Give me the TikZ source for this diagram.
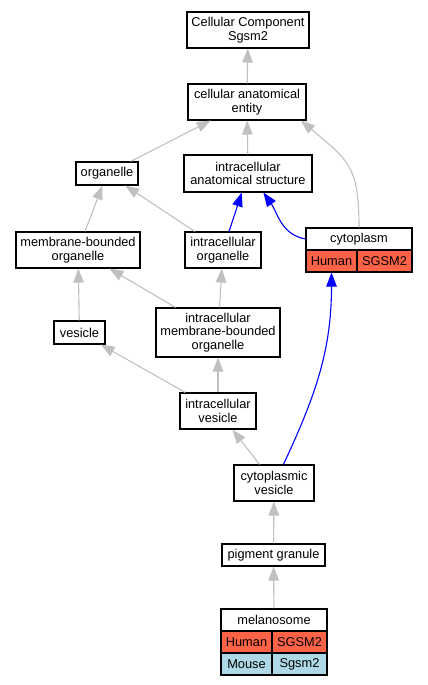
\documentclass[tikz,border=0pt]{standalone}
\usepackage{fontspec}
\setmainfont{Liberation Sans}
\usetikzlibrary{arrows.meta}
\definecolor{isagray}{RGB}{192,192,192}
\definecolor{human}{RGB}{255,99,71}
\definecolor{mouse}{RGB}{173,216,230}
\begin{document}
\begin{tikzpicture}[x=1pt,y=1pt,
    font=\fontsize{12.8}{13.4}\selectfont,
    cell/.style={draw,line width=1.1pt,inner sep=0pt,minimum height=22pt}]
  \useasboundingbox (0,0) rectangle (428,-685);

        \begin{scope}[every node/.style={draw,line width=1.1pt,align=center,inner sep=0pt,minimum height=36pt}]
          \node[minimum width=122pt] (1)  at (248,-30)    {Cellular Component\\Sgsm2};
          \node[minimum width=118pt] (2)  at (247,-102)   {cellular anatomical\\entity};
          \node[minimum width=62pt,minimum height=23pt] (3) at (107,-173.5) {organelle};
          \node[minimum width=128pt,minimum height=37pt] (4) at (248,-173.5) {intracellular\\anatomical structure};
          \node[minimum width=124pt] (5)  at (78,-250)    {membrane-bounded\\organelle};
          \node[minimum width=76pt]  (6)  at (223,-250)   {intracellular\\organelle};
          \node[minimum width=51pt,minimum height=23pt] (8) at (79.5,-332.5) {vesicle};
          \node[minimum width=124pt,minimum height=49pt] (9) at (218,-332.5) {intracellular\\membrane-bounded\\organelle};
          \node[minimum width=76pt]  (10) at (218,-411)   {intracellular\\vesicle};
          \node[minimum width=80pt]  (11) at (274,-483)   {cytoplasmic\\vesicle};
          \node[minimum width=103pt,minimum height=22pt] (12) at (273.5,-555) {pigment granule};
        \end{scope}

        % annotated terms
        \node[cell,minimum width=106pt] (7)  at (359,-239)   {cytoplasm};
        \node[cell,fill=human,minimum width=51pt] (7h) at (331.5,-261) {Human};
        \node[cell,fill=human,minimum width=55pt] (7s) at (384.5,-261) {SGSM2};

        \node[cell,minimum width=106pt] (13) at (274,-620)   {melanosome};
        \node[cell,fill=human,minimum width=51pt] (13h) at (246.5,-642) {Human};
        \node[cell,fill=human,minimum width=55pt] (13s) at (299.5,-642) {SGSM2};
        \node[cell,fill=mouse,minimum width=51pt] (13m) at (246.5,-664) {Mouse};
        \node[cell,fill=mouse,minimum width=55pt] (13n) at (299.5,-664) {Sgsm2};

        \begin{scope}[every edge/.style={draw,isagray,line width=1.1pt,-{Triangle[length=14pt,width=10.5pt]}}]
          \path (2)  edge (1);
          \path (3)  edge (2);
          \path (4)  edge (2);
          \path (7.north) edge[out=90,in=-40,looseness=1.3] (2.-19);
          \path (5)  edge (3);
          \path (6)  edge (3);
          \path (6)  edge[blue] (4);
          \path (7.west) edge[blue,out=170,in=-55] (4.-51);
          \path (8)  edge (5);
          \path (9)  edge (5);
          \path (9)  edge (6);
          \path (10) edge (8);
          \path (10) edge (9);
          \path (11) edge (10);
          \path (11.63) edge[blue,out=65,in=-90] (7h.south);
          \path (12) edge (11);
          \path (13) edge (12);
        \end{scope}

      \end{tikzpicture}
\end{document}
